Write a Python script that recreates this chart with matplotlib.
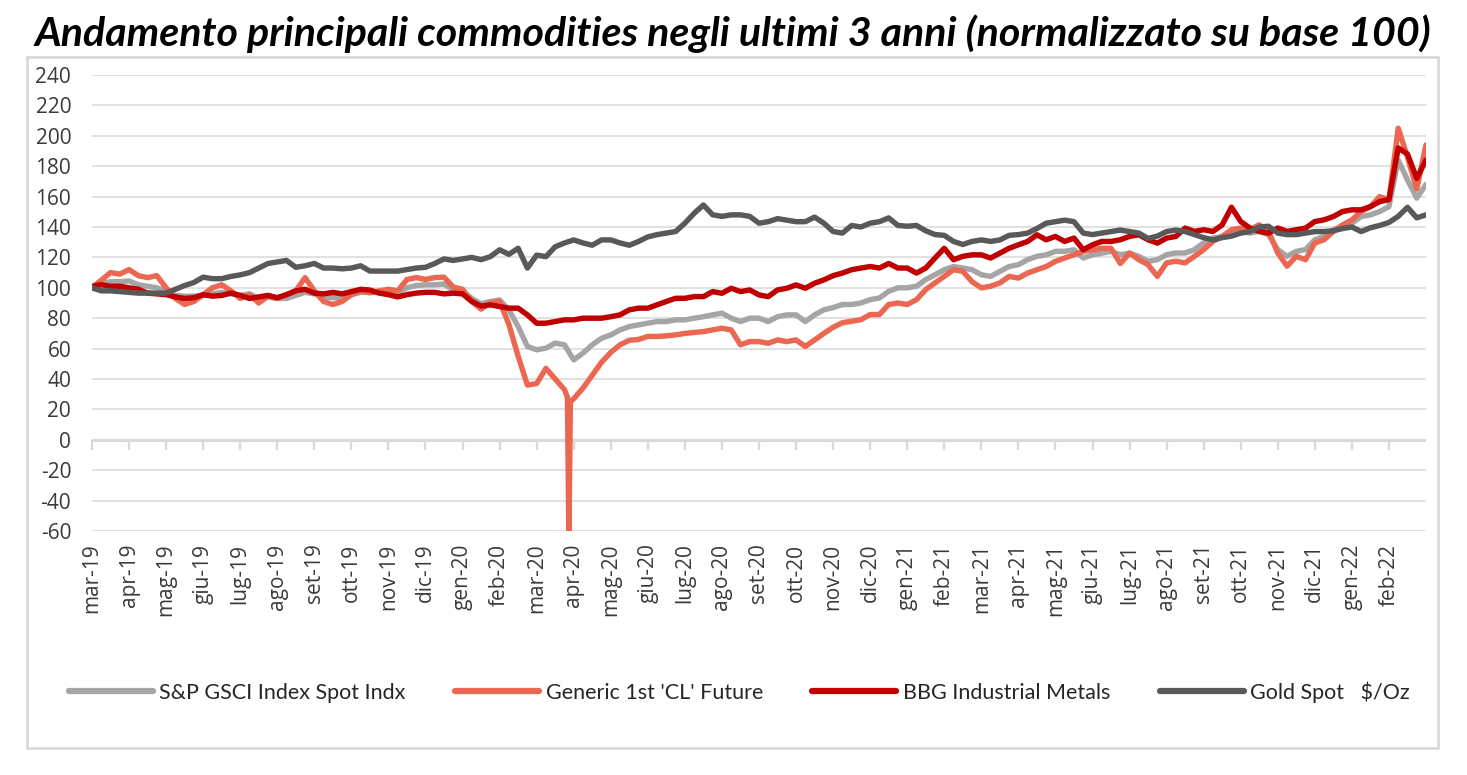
import numpy as np
import matplotlib
matplotlib.use("Agg")
import matplotlib.pyplot as plt
from matplotlib.patches import Rectangle

plt.rcParams["font.family"] = ["Open Sans", "DejaVu Sans"]
plt.rcParams["axes.unicode_minus"] = False

# ---------------- data ----------------
title = "Andamento principali commodities negli ultimi 3 anni (normalizzato su base 100)"
series_names = ["S&P GSCI Index Spot Indx", "Generic 1st 'CL' Future",
                "BBG Industrial Metals", "Gold Spot   $/Oz"]
tick_labels = ["mar-19", "apr-19", "mag-19", "giu-19", "lug-19", "ago-19", "set-19", "ott-19",
               "nov-19", "dic-19", "gen-20", "feb-20", "mar-20", "apr-20", "mag-20", "giu-20",
               "lug-20", "ago-20", "set-20", "ott-20", "nov-20", "dic-20", "gen-21", "feb-21",
               "mar-21", "apr-21", "mag-21", "giu-21", "lug-21", "ago-21", "set-21", "ott-21",
               "nov-21", "dic-21", "gen-22", "feb-22"]

# time in months since start (weekly-ish sampling: quarter months)
months = np.arange(145) * 0.25

gsci = [100, 103, 104, 104, 104.5, 102, 101, 100, 98, 95, 94.5, 94.5,
        95, 96, 97, 96, 95, 96, 93, 94, 93, 93, 95, 97,
        96, 94, 93.5, 93.5, 95.5, 97, 97, 97, 97, 97, 100, 101.5,
        102, 102, 102.5, 98.5, 97.5, 93, 89.5, 91, 92, 85.5, 74.5, 61.4,
        59.2, 60.3, 63.6, 62.5, 52.6, 57, 62.5, 66.8, 69, 72.3, 74.5, 75.6,
        76.7, 77.8, 77.8, 78.9, 78.9, 80, 81, 82.2, 83.3, 80, 77.8, 80,
        80, 77.8, 81, 82.2, 82.2, 77.8, 82.2, 85.5, 87, 89, 89, 90,
        92.2, 93.3, 97.7, 100, 100, 101, 105.4, 108.6, 111.9, 114, 113, 111.9,
        108.6, 107.5, 110.8, 114, 115.2, 118.5, 120.7, 121.7, 124, 124, 125, 119.6,
        121.7, 122.8, 124, 121.7, 122.8, 120.7, 117.4, 118.5, 121.8, 122.9, 122.9, 125.1,
        129.5, 132.7, 133.8, 136, 137.1, 136, 137.1, 134.9, 125.1, 120.7, 124, 125.1,
        131.6, 133.8, 138.2, 140.3, 142.5, 146.9, 148, 150.2, 153.4, 184, 171, 159,
        168]

crude = [100, 105, 110, 109, 112, 108, 106.7, 108, 100, 93, 89, 91,
         95.5, 100, 102, 98, 93, 95.5, 90, 94.5, 93, 95.5, 98, 106.7,
         98, 91, 89, 91, 95.5, 98, 96.7, 98, 99, 98, 105.5, 106.7,
         105.5, 106.7, 107, 100.5, 99, 91, 86, 90, 91, 76, 55, 36,
         37, 47, 40, 33, 27, 34, 42.5, 51, 57.5, 62.5, 65.5, 66,
         68, 68, 68.4, 69, 70, 70.6, 71.2, 72.3, 73.4, 72.3, 62.5, 64.6,
         64.6, 63.5, 65.7, 64.6, 65.7, 61.4, 65.7, 70, 74, 77, 78, 79,
         82.4, 82.4, 89, 90, 89, 92.2, 98.8, 103.2, 107.5, 111.9, 110.8, 104,
         100, 101, 103.2, 107.5, 106.4, 109.7, 111.9, 114, 117.4, 119.6, 121.7, 124,
         125, 126, 126, 116, 122.8, 118.5, 115.2, 107.5, 116.4, 117.5, 116.4, 120.7,
         125.1, 130.5, 133.8, 138.2, 139.3, 138.2, 141.4, 137.1, 122.9, 114.2, 120.7, 118.5,
         129.5, 131.6, 137.1, 141.4, 144.7, 150.2, 153.4, 160, 157.8, 205, 186, 165,
         194]
# April 2020 negative-price day (extra daily observations)
crude_spike_months = [12.83, 12.87, 12.91]
crude_spike_values = [28, -65, 25]

metals = [101, 102, 101, 101, 100, 99, 96.5, 96, 95.5, 94, 93, 93.5,
          95.5, 94.5, 95, 96.5, 95, 93, 94, 95, 93.5, 95.5, 98, 99,
          96.5, 96, 97, 96, 97.5, 99, 98.5, 96.5, 95.5, 94, 95.5, 96.5,
          97, 97, 96, 96.5, 96, 91, 88, 88.8, 87.7, 86.6, 86.6, 82.2,
          76.7, 76.7, 77.8, 78.9, 78.9, 80, 80, 80, 81, 82.2, 85.5, 86.6,
          86.6, 88.8, 91, 93.1, 93.1, 94.2, 94.2, 97.5, 96.4, 99.7, 97.5, 98.6,
          95.3, 94.2, 98.6, 99.7, 101.9, 99.7, 103, 105.2, 108, 109.7, 111.9, 113,
          114, 113, 116, 113, 113, 109.7, 113, 119.6, 126, 118.5, 120.7, 121.7,
          121.7, 119.6, 122.8, 126, 128.3, 130.5, 134.9, 131.6, 133.8, 130.5, 132.7, 125,
          128.3, 130.5, 130.5, 131.6, 133.8, 134.9, 131.6, 129.4, 132.7, 133.8, 139.3, 137.1,
          138.2, 137.1, 141.4, 153, 143.6, 139.3, 137.1, 136, 139.3, 137.1, 138.2, 139.3,
          143.6, 144.7, 146.9, 150.2, 151.3, 151.3, 153.4, 156.7, 158, 192, 188, 172,
          184]

gold = [100, 98, 98, 97.5, 97, 96.5, 96.5, 96.5, 96.5, 99, 101.5, 103.5,
        107, 106, 106, 107.5, 108.5, 110, 113, 116, 117, 118, 113.5, 114.5,
        116, 113, 113, 112.5, 113, 114.5, 111, 111, 111, 111, 112, 113,
        113.5, 116, 119, 118, 119, 120, 118.5, 120.5, 125, 122, 126, 113,
        121.5, 120.5, 127, 129.5, 131.5, 129.5, 128, 131.5, 131.5, 129.5, 128, 130.5,
        133.5, 135, 136, 137, 142.5, 149, 154.5, 148, 147, 148, 148, 147,
        142.5, 143.5, 145.5, 144.5, 143.5, 143.5, 146.5, 142.5, 137, 136, 141, 140,
        142.5, 143.5, 146, 141, 140.5, 141, 137.5, 135, 134.5, 130.5, 128.5, 130.5,
        131.5, 130.5, 131.5, 134.5, 135, 136, 139, 142.5, 143.5, 144.5, 143.5, 136,
        135, 136, 137, 138, 137, 136, 132.5, 134, 137, 138, 137, 135,
        133, 131.5, 133, 134, 136, 137, 140, 140.5, 136, 135, 135, 136,
        137, 137, 137.5, 139, 140, 137, 139.5, 141, 143, 147, 153, 146,
        148]

colors = ["#A5A5A5", "#EC6752", "#C00000", "#595959"]

# merge the crude spike observations
cx = np.concatenate([months, crude_spike_months])
cy = np.concatenate([crude, crude_spike_values])
order = np.argsort(cx)
cx, cy = cx[order], cy[order]

# ---------------- figure ----------------
W, H = 1467, 775
fig = plt.figure(figsize=(W / 100, H / 100), dpi=100)
fig.patch.set_facecolor("white")

ax = fig.add_axes([92 / W, 1 - 531 / H, (1426 - 92) / W, (531 - 75) / H])
ax.set_xlim(0, 36)
ax.set_ylim(-60, 240)
for s in ax.spines.values():
    s.set_visible(False)

ax.set_yticks(np.arange(-60, 241, 20))
ax.yaxis.grid(True, color="#D9D9D9", lw=1.1, zorder=0)
ax.set_axisbelow(True)
ax.tick_params(axis="y", length=0, pad=15, labelsize=15, labelcolor="#3A3A3A")

ax.set_xticks(np.arange(36))
ax.set_xticklabels(tick_labels, rotation=90, fontsize=15, color="#3A3A3A")
ax.tick_params(axis="x", length=0, pad=9)

# horizontal axis at zero with tick marks
ax.axhline(0, color="#D9D9D9", lw=2.2, zorder=1)
sec = ax.secondary_xaxis(60 / 300)
sec.set_xticks(np.arange(36))
sec.tick_params(axis="x", length=7, width=1.6, color="#D9D9D9", labelbottom=False)
sec.spines["bottom"].set_visible(False)

lw = 3.9
l1, = ax.plot(months, gsci, color=colors[0], lw=lw, zorder=3,
              solid_joinstyle="round", solid_capstyle="round")
l2, = ax.plot(cx, cy, color=colors[1], lw=lw, zorder=4,
              solid_joinstyle="round", solid_capstyle="round")
l3, = ax.plot(months, metals, color=colors[2], lw=lw, zorder=5,
              solid_joinstyle="round", solid_capstyle="round")
l4, = ax.plot(months, gold, color=colors[3], lw=lw, zorder=6,
              solid_joinstyle="round", solid_capstyle="round")

leg = fig.legend([l1, l2, l3, l4], series_names, loc="center",
                 bbox_to_anchor=(0.504, 1 - 692 / H), ncol=4, frameon=False,
                 handlelength=3.9, handletextpad=0.3, columnspacing=2.3,
                 prop={"family": ["Lato", "DejaVu Sans"], "size": 15.5})
for t in leg.get_texts():
    t.set_color("#262626")
for h in leg.legend_handles:
    h.set_linewidth(4.5)
    h.set_solid_capstyle("round")

# outer chart frame
fig.patches.append(Rectangle((27 / W, 1 - 748 / H), 1411 / W, 691 / H,
                             transform=fig.transFigure, fill=False,
                             edgecolor="#D9D9D9", lw=2, zorder=0))

# title, fitted to the reference width
ttl = fig.text(0.4995, 1 - 46 / H, title, ha="center", va="baseline",
               fontsize=28, fontweight="bold", fontstyle="italic",
               family=["Lato", "DejaVu Sans"], color="black")
renderer = fig.canvas.get_renderer()
wpx = ttl.get_window_extent(renderer).width
ttl.set_fontsize(28 * 1395 / wpx)

fig.savefig("out.png", dpi=100, facecolor="white")
